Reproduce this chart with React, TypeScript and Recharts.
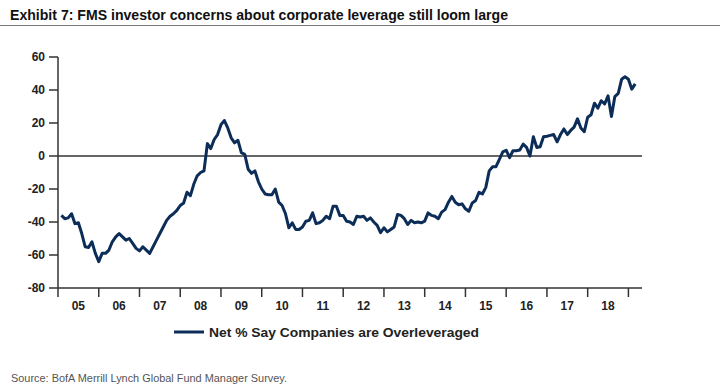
import React from 'react';
import { LineChart, Line, XAxis, YAxis, ReferenceLine } from 'recharts';

const TITLE = 'Exhibit 7: FMS investor concerns about corporate leverage still loom large';
const SERIES_NAME = 'Net % Say Companies are Overleveraged';
const SOURCE = 'Source: BofA Merrill Lynch Global Fund Manager Survey.';

const yearLabels = ['05', '06', '07', '08', '09', '10', '11', '12', '13', '14', '15', '16', '17', '18'];
const yearTicks = [0, 12, 24, 36, 48, 60, 72, 84, 96, 108, 120, 132, 144, 156, 168];
const yTicks = [-80, -60, -40, -20, 0, 20, 40, 60];

// Monthly values, Feb 2005 .. Apr 2019 (month index 1..171)
const values = [
  -36, -38, -37.5, -35, -41, -40.5, -47, -55, -55.5, -52, -59, -64,
  -59, -59, -57, -52, -49, -47, -49, -51, -50, -53, -56, -57.5,
  -55, -57, -59, -55, -51, -47, -43, -39, -36.5, -35, -33, -30,
  -28.5, -22, -24, -17, -12, -10, -9, 7.5, 4.5, 10, 13, 19,
  21.5, 17, 11, 8, 9.5, 2, 1, -8, -10.5, -9, -15.5, -20,
  -23, -23.5, -23.5, -20, -28, -30, -35, -43.5, -40.5, -44.5, -44.5, -43,
  -39.5, -39, -34.5, -41, -40.5, -39, -36.5, -38, -30.5, -30.5, -36, -36,
  -39.5, -40, -41.5, -36.5, -37, -36.5, -39, -37.5, -40, -42, -46.5, -43.5,
  -46, -44.5, -43, -35.5, -36, -38, -41.5, -39, -40.5, -40, -40.5, -39.5,
  -34.5, -36, -36.5, -38, -34, -32.5, -28, -24.5, -28, -29.5, -29, -32,
  -33.5, -28.5, -27, -22, -23, -19, -9, -6.5, -6.5, -2, 2.5, 3.5,
  -1, 3.2, 3.2, 3.6, 7.2, 5.2, 0, 11.7, 5.2, 5.6, 11.7, 12,
  12.5, 13, 8.6, 13, 16.4, 13, 15.5, 17.5, 22.5, 17, 14.7, 23.5,
  25, 32, 29, 33.5, 31.5, 36.5, 24, 36, 38, 46.5, 48, 46.5,
  40.5, 43.7,
];

const data = values.map((v, i) => ({ m: i + 1, v }));

const W = 720;
const H = 387;
const PLOT_LEFT = 58;
const PLOT_RIGHT = 642;
const X_MAX = 172;
const HALF_YEAR_PX = ((PLOT_RIGHT - PLOT_LEFT) / X_MAX) * 6;

const LINE_COLOR = '#0c2d58';
const AXIS_COLOR = '#333333';
const FONT = 'Arial, "Liberation Sans", Helvetica, sans-serif';

const XTick = (props: any) => {
  const { x, y, payload } = props;
  const idx = Math.round(payload.value / 12);
  if (idx >= yearLabels.length) return null;
  return (
    <text
      x={x + HALF_YEAR_PX}
      y={y}
      dy="0.71em"
      textAnchor="middle"
      fontFamily={FONT}
      fontSize={12}
      fontWeight="bold"
      fill="#222"
    >
      {yearLabels[idx]}
    </text>
  );
};

export default function App() {
  return (
    <div style={{ position: 'absolute', left: 0, top: 0, width: W, height: H, background: '#fff' }}>
      <svg width={W} height={H} style={{ position: 'absolute', left: 0, top: 0 }}>
        <text
          x={10}
          y={20}
          fontFamily={FONT}
          fontSize={15}
          fontWeight="bold"
          fill="#111"
          textLength={498}
          lengthAdjust="spacingAndGlyphs"
        >
          {TITLE}
        </text>
        <line x1={0} x2={720} y1={25.5} y2={25.5} stroke="#777" strokeWidth={1} />
        <line x1={174} x2={204} y1={332} y2={332} stroke={LINE_COLOR} strokeWidth={3} />
        <text
          x={209}
          y={337}
          fontFamily={FONT}
          fontSize={13.5}
          fontWeight="bold"
          fill="#222"
          textLength={270}
          lengthAdjust="spacingAndGlyphs"
        >
          {SERIES_NAME}
        </text>
        <text
          x={11}
          y={382}
          fontFamily={FONT}
          fontSize={11.5}
          fill="#555"
          textLength={276}
          lengthAdjust="spacingAndGlyphs"
        >
          {SOURCE}
        </text>
      </svg>
      <div style={{ position: 'absolute', left: 0, top: 0 }}>
        <LineChart
          width={W}
          height={H}
          data={data}
          margin={{ top: 57, right: W - PLOT_RIGHT, bottom: 69, left: 0 }}
        >
          <XAxis
            dataKey="m"
            type="number"
            domain={[0, X_MAX]}
            ticks={yearTicks}
            interval={0}
            allowDataOverflow
            height={30}
            tickSize={9}
            tickMargin={4}
            stroke={AXIS_COLOR}
            strokeWidth={1.5}
            tick={<XTick />}
          />
          <YAxis
            type="number"
            domain={[-80, 60]}
            ticks={yTicks}
            interval={0}
            width={PLOT_LEFT}
            tickSize={9}
            tickMargin={4}
            stroke={AXIS_COLOR}
            strokeWidth={1.5}
            tick={{ fontFamily: FONT, fontSize: 12, fontWeight: 'bold', fill: '#222' }}
          />
          <ReferenceLine y={0} stroke={AXIS_COLOR} strokeWidth={1.5} />
          <Line
            type="linear"
            dataKey="v"
            stroke={LINE_COLOR}
            strokeWidth={3}
            dot={false}
            strokeLinejoin="round"
            isAnimationActive={false}
          />
        </LineChart>
      </div>
    </div>
  );
}
